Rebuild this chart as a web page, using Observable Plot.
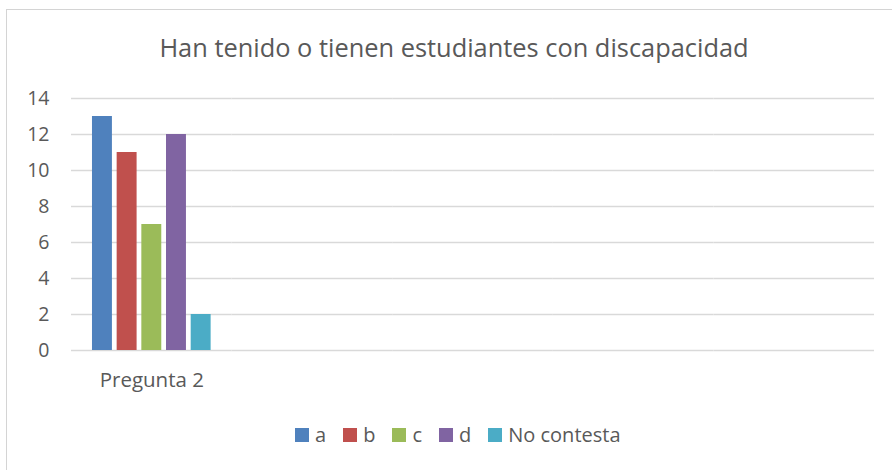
<!DOCTYPE html>
<html>
<head>
<meta charset="utf-8">
<script src="https://cdn.jsdelivr.net/npm/d3@7"></script>
<script src="https://cdn.jsdelivr.net/npm/@observablehq/plot@0.6"></script>
<style>
  html, body { margin: 0; padding: 0; background: #fff; }
  #wrap { position: relative; width: 892px; height: 470px; overflow: hidden; font-family: "Open Sans", sans-serif; color: #595959; }
  #frame { position: absolute; left: 6px; top: 9px; width: 920px; height: 500px; border: 1px solid #d4d4d4; box-sizing: border-box; }
  #title { position: absolute; left: 0; width: 908px; top: 29px; text-align: center; font-size: 25.4px; line-height: 36px; white-space: nowrap; }
  #chart { position: absolute; left: 0; top: 78px; }
  #legend { position: absolute; left: 295px; top: 423px; display: flex; align-items: center; font-size: 20px; line-height: 24px; white-space: nowrap; }
  .item { display: flex; align-items: center; margin-right: 17px; }
  .sw { width: 14px; height: 14px; margin-right: 6px; }
</style>
</head>
<body>
<div id="wrap">
  <div id="frame"></div>
  <div id="title"></div>
  <div id="chart"></div>
  <div id="legend"></div>
</div>
<script>
const title = "Han tenido o tienen estudiantes con discapacidad";
// One filled category; the remaining four category slots are empty in the original chart
const categories = ["Pregunta 2", " ", "  ", "   ", "    "];
const series = ["a", "b", "c", "d", "No contesta"];
const values = [13, 11, 7, 12, 2];
const colors = ["#4F81BD", "#C0504D", "#9BBB59", "#8064A2", "#4BACC6"];
const yTicks = [0, 2, 4, 6, 8, 10, 12, 14];

const data = series.map((s, i) => ({cat: categories[0], series: s, value: values[i]}));
const grid = categories.flatMap(c => yTicks.map(t => ({cat: c, t})));

document.getElementById("title").textContent = title;

const chart = Plot.plot({
  width: 892,
  height: 330,
  marginLeft: 71,
  marginRight: 18,
  marginTop: 20,
  marginBottom: 58,
  style: {fontFamily: "'Open Sans', sans-serif", color: "#595959", background: "transparent"},
  fx: {domain: categories, padding: 0, label: null, round: false},
  x: {domain: series, paddingInner: 0.192, paddingOuter: 0.85, axis: null, round: false},
  y: {domain: [0, 14], label: null},
  color: {domain: series, range: colors},
  marks: [
    Plot.ruleY(grid, {fx: "cat", y: "t", stroke: "#d9d9d9", strokeWidth: 1.3}),
    Plot.barY(data, {fx: "cat", x: "series", y: "value", fill: "series"}),
    Plot.axisY(yTicks, {tickSize: 0, tickPadding: 22, fontSize: 19.5, label: null, fill: "#595959"}),
    Plot.axisFx({anchor: "bottom", tickSize: 0, tickPadding: 22, fontSize: 20.5, label: null, fill: "#595959"})
  ]
});
document.getElementById("chart").appendChild(chart);

const legend = document.getElementById("legend");
series.forEach((s, i) => {
  const item = document.createElement("div");
  item.className = "item";
  const sw = document.createElement("div");
  sw.className = "sw";
  sw.style.background = colors[i];
  const label = document.createElement("span");
  label.textContent = s;
  item.appendChild(sw);
  item.appendChild(label);
  legend.appendChild(item);
});
</script>
</body>
</html>
